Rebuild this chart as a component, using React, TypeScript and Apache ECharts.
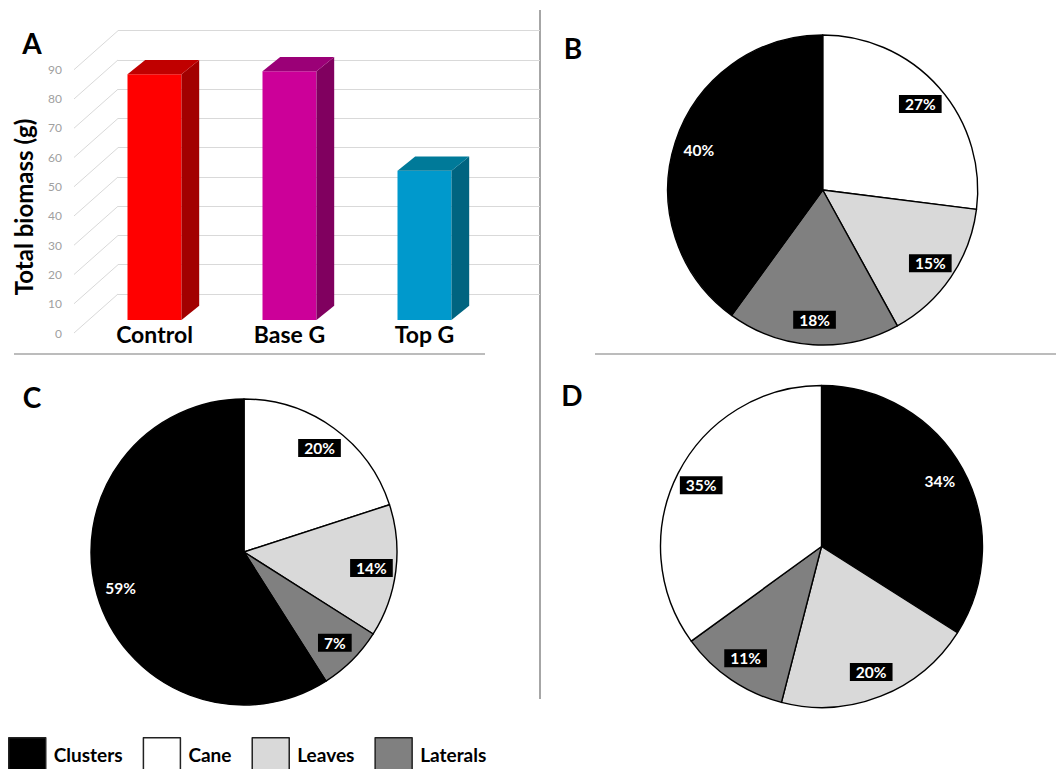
import React, { useEffect, useRef } from 'react';
import * as echarts from 'echarts';

// ---------- data ----------
const barCategories = ['Control', 'Base G', 'Top G'];
const barValues = [84, 85, 51];
const yTicks = [0, 10, 20, 30, 40, 50, 60, 70, 80, 90];
const yAxisTitle = 'Total biomass (g)';

const legendNames = ['Clusters', 'Cane', 'Leaves', 'Laterals'];

const pieBNames = ['Cane', 'Leaves', 'Laterals', 'Clusters'];
const pieBValues = [27, 15, 18, 40];
const pieCNames = ['Cane', 'Leaves', 'Laterals', 'Clusters'];
const pieCValues = [20, 14, 7, 59];
const pieDNames = ['Clusters', 'Leaves', 'Laterals', 'Cane'];
const pieDValues = [34, 20, 11, 35];

// ---------- styles ----------
const sliceColors: Record<string, string> = {
  Clusters: '#000000',
  Cane: '#ffffff',
  Leaves: '#d9d9d9',
  Laterals: '#808080',
};
const barFront = ['#ff0000', '#cc0099', '#0099cc'];
const barTop = ['#c00000', '#9b0077', '#007a99'];
const barSide = ['#a20000', '#80005f', '#006480'];
const FONT = 'Lato, "Open Sans", sans-serif';

function visiblePie(names: string[], values: number[], center: number[], r: number) {
  return {
    type: 'pie',
    center,
    radius: [0, r],
    startAngle: 90,
    clockwise: true,
    silent: true,
    emphasis: { disabled: true },
    label: { show: false },
    labelLine: { show: false },
    itemStyle: { borderColor: '#000', borderWidth: 1.4 },
    data: names.map((n, i) => ({ name: n, value: values[i], itemStyle: { color: sliceColors[n] } })),
  };
}

function labelPie(names: string[], values: number[], center: number[], r: number) {
  return {
    type: 'pie',
    center,
    radius: [r * 0.64, r],
    startAngle: 90,
    clockwise: true,
    silent: true,
    legendHoverLink: false,
    emphasis: { disabled: true },
    itemStyle: { color: 'rgba(0,0,0,0)', borderWidth: 0 },
    labelLine: { show: false },
    label: {
      show: true,
      position: 'inside',
      formatter: '{c}%',
      color: '#fff',
      fontFamily: FONT,
      fontWeight: 'bold',
      fontSize: 15.5,
      lineHeight: 15,
      backgroundColor: '#000',
      padding: [2, 6, 1, 6],
    },
    data: names.map((n, i) => ({ name: n, value: values[i] })),
  };
}

export default function App() {
  const ref = useRef<HTMLDivElement>(null);
  useEffect(() => {
    if (!ref.current) return;
    const chart = echarts.init(ref.current, undefined, { renderer: 'svg' });

    const pieB = { c: [822.7, 190], r: 155 };
    const pieC = { c: [244, 552], r: 153 };
    const pieD = { c: [821.5, 546.5], r: 161 };

    const option: any = {
      animation: false,
      backgroundColor: '#fff',
      grid: [
        // back wall
        { left: 118, width: 422, top: 30.7, height: 263.3, outerBoundsMode: 'none' },
        // bar plane
        { left: 87, width: 405, top: 56.7, height: 263.3, outerBoundsMode: 'none' },
        // front plane (labels)
        { left: 70, width: 10, top: 69, height: 264, outerBoundsMode: 'none' },
      ],
      xAxis: [
        { gridIndex: 0, type: 'value', min: 0, max: 1, show: false },
        {
          gridIndex: 1,
          type: 'category',
          data: barCategories,
          axisLine: { show: false },
          axisTick: { show: false },
          axisLabel: {
            margin: 2,
            fontFamily: FONT,
            fontWeight: 'bold',
            fontSize: 23,
            color: '#000',
            interval: 0,
          },
        },
        { gridIndex: 2, type: 'value', min: 0, max: 1, show: false },
      ],
      yAxis: [
        {
          gridIndex: 0,
          type: 'value',
          min: 0,
          max: 90,
          interval: 10,
          axisLine: { show: false },
          axisTick: { show: false },
          axisLabel: { show: false },
          splitLine: { show: true, lineStyle: { color: '#d9d9d9', width: 1 } },
        },
        { gridIndex: 1, type: 'value', min: 0, max: 90, interval: 10, show: false },
        {
          gridIndex: 2,
          type: 'value',
          min: 0,
          max: 90,
          interval: 10,
          axisLine: { show: false },
          axisTick: { show: false },
          splitLine: { show: false },
          axisLabel: { margin: 8, color: '#a0a0a0', fontSize: 12, fontFamily: FONT },
        },
      ],
      legend: {
        left: 8,
        top: 737,
        padding: 0,
        itemWidth: 37,
        itemHeight: 33,
        itemGap: 20,
        icon: 'rect',
        selectedMode: false,
        data: legendNames,
        itemStyle: { borderColor: '#222', borderWidth: 1.5 },
        textStyle: {
          fontFamily: FONT,
          fontWeight: 'bold',
          fontSize: 19,
          color: '#000',
          padding: [0, 0, 0, 3],
        },
      },
      series: [
        visiblePie(pieBNames, pieBValues, pieB.c, pieB.r),
        visiblePie(pieCNames, pieCValues, pieC.c, pieC.r),
        visiblePie(pieDNames, pieDValues, pieD.c, pieD.r),
        labelPie(pieBNames, pieBValues, pieB.c, pieB.r),
        labelPie(pieCNames, pieCValues, pieC.c, pieC.r),
        labelPie(pieDNames, pieDValues, pieD.c, pieD.r),
        {
          type: 'custom',
          name: 'floorLines',
          xAxisIndex: 0,
          yAxisIndex: 0,
          silent: true,
          data: yTicks.map((v) => [0, v]),
          renderItem: (params: any, api: any) => {
            const p = api.coord([api.value(0), api.value(1)]);
            return {
              type: 'line',
              shape: { x1: p[0] - 44, y1: p[1] + 39, x2: p[0], y2: p[1] },
              style: { stroke: '#d9d9d9', lineWidth: 1 },
            };
          },
        },
        {
          type: 'custom',
          name: 'bars3d',
          xAxisIndex: 1,
          yAxisIndex: 1,
          silent: true,
          encode: { x: 0, y: 1 },
          data: barValues.map((v, i) => [i, v]),
          renderItem: (params: any, api: any) => {
            const i = api.value(0);
            const v = api.value(1);
            const top = api.coord([i, v]);
            const base = api.coord([i, 0]);
            const w = api.size([1, 0])[0] * 0.4;
            const hw = w / 2;
            const dx = 17.7;
            const dy = -14.3;
            const xl = top[0] - hw;
            const xr = top[0] + hw;
            return {
              type: 'group',
              children: [
                {
                  type: 'rect',
                  shape: { x: xl, y: top[1], width: w, height: base[1] - top[1] },
                  style: { fill: barFront[i] },
                },
                {
                  type: 'polygon',
                  shape: {
                    points: [
                      [xr, top[1]],
                      [xr + dx, top[1] + dy],
                      [xr + dx, base[1] + dy],
                      [xr, base[1]],
                    ],
                  },
                  style: { fill: barSide[i] },
                },
                {
                  type: 'polygon',
                  shape: {
                    points: [
                      [xl, top[1]],
                      [xl + dx, top[1] + dy],
                      [xr + dx, top[1] + dy],
                      [xr, top[1]],
                    ],
                  },
                  style: { fill: barTop[i] },
                },
              ],
            };
          },
        },
      ],
      graphic: [
        { type: 'line', shape: { x1: 540, y1: 10, x2: 540, y2: 699 }, style: { stroke: '#a6a6a6', lineWidth: 2 } },
        { type: 'line', shape: { x1: 14, y1: 354, x2: 485, y2: 354 }, style: { stroke: '#a6a6a6', lineWidth: 1.5 } },
        { type: 'line', shape: { x1: 595, y1: 354, x2: 1056, y2: 354 }, style: { stroke: '#a6a6a6', lineWidth: 1.5 } },
        {
          type: 'text',
          x: 23,
          y: 207,
          rotation: Math.PI / 2,
          style: { text: yAxisTitle, fontFamily: FONT, fontWeight: 'bold', fontSize: 24, fill: '#000', align: 'center', verticalAlign: 'middle' },
        },
        { type: 'text', x: 32, y: 43, style: { text: 'A', fontFamily: FONT, fontWeight: 'bold', fontSize: 28, fill: '#000', align: 'center', verticalAlign: 'middle' } },
        { type: 'text', x: 573, y: 48, style: { text: 'B', fontFamily: FONT, fontWeight: 'bold', fontSize: 28, fill: '#000', align: 'center', verticalAlign: 'middle' } },
        { type: 'text', x: 32, y: 397, style: { text: 'C', fontFamily: FONT, fontWeight: 'bold', fontSize: 28, fill: '#000', align: 'center', verticalAlign: 'middle' } },
        { type: 'text', x: 572, y: 395, style: { text: 'D', fontFamily: FONT, fontWeight: 'bold', fontSize: 28, fill: '#000', align: 'center', verticalAlign: 'middle' } },
      ],
    };

    chart.setOption(option);
    return () => chart.dispose();
  }, []);

  return (
    <div
      ref={ref}
      style={{ position: 'fixed', left: 0, top: 0, width: 1056, height: 769, background: '#fff' }}
    />
  );
}
